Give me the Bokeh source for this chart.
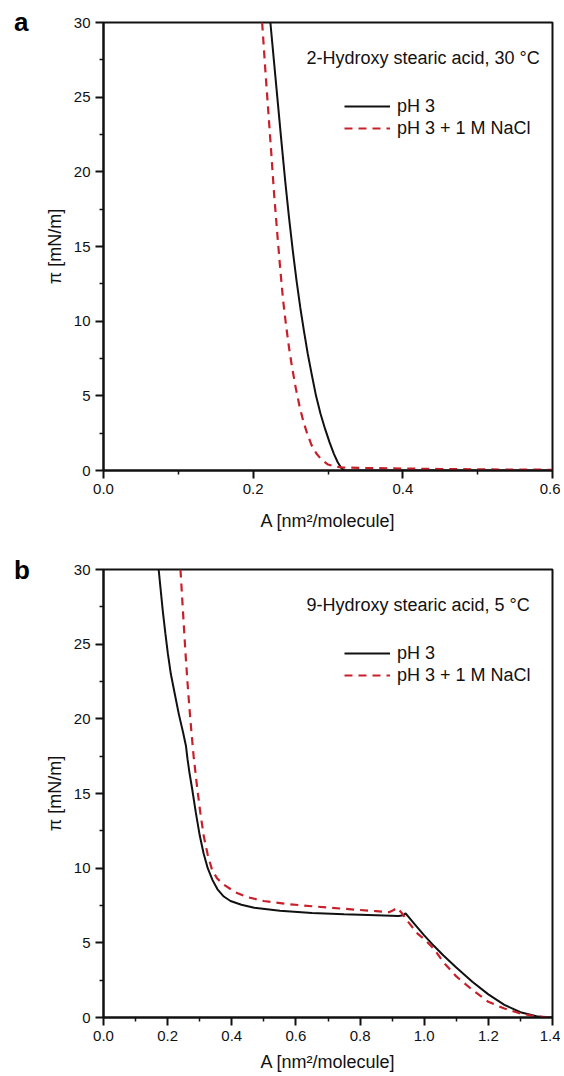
from bokeh.plotting import figure
from bokeh.models import (Label, Legend, LegendItem, FixedTicker,
                          PrintfTickFormatter, Range1d, Div)
from bokeh.layouts import column, row
from bokeh.embed import file_html
from bokeh.resources import INLINE

# ---------------- data ----------------
# Panel a: 2-Hydroxy stearic acid, 30 °C
a_area_ph3 = [0.223, 0.228, 0.233, 0.238, 0.243, 0.248, 0.253, 0.258, 0.263,
              0.268, 0.273, 0.278, 0.284, 0.290, 0.296, 0.302, 0.308, 0.313,
              0.318, 0.322, 0.40, 0.50, 0.60]
a_pi_ph3 = [30.0, 27.3, 24.6, 21.9, 19.3, 16.9, 14.7, 12.7, 10.9,
            9.3, 7.8, 6.5, 5.0, 3.8, 2.8, 1.9, 1.1, 0.55,
            0.15, 0.0, 0.0, 0.0, 0.0]
a_area_nacl = [0.212, 0.216, 0.220, 0.224, 0.228, 0.232, 0.236, 0.240, 0.244,
               0.248, 0.252, 0.257, 0.262, 0.267, 0.272, 0.278, 0.285, 0.292,
               0.300, 0.310, 0.320, 0.350, 0.400, 0.450, 0.500, 0.550, 0.600]
a_pi_nacl = [30.0, 27.0, 24.2, 21.4, 18.5, 16.0, 13.6, 11.4, 9.7,
             8.2, 6.9, 5.5, 4.3, 3.3, 2.5, 1.7, 1.1, 0.7,
             0.4, 0.25, 0.2, 0.17, 0.13, 0.1, 0.08, 0.06, 0.05]

# Panel b: 9-Hydroxy stearic acid, 5 °C
b_area_ph3 = [0.172, 0.178, 0.185, 0.193, 0.2005, 0.210, 0.222, 0.235, 0.248,
              0.257, 0.262, 0.268, 0.2765, 0.288, 0.300, 0.312, 0.325, 0.340,
              0.355, 0.375, 0.396, 0.430, 0.470, 0.550, 0.650, 0.750, 0.850,
              0.920, 0.935, 0.942, 0.970, 1.000, 1.030, 1.060, 1.100, 1.150,
              1.200, 1.250, 1.300, 1.350, 1.380, 1.400]
b_pi_ph3 = [30.0, 28.7, 27.2, 25.7, 24.4, 23.0, 21.7, 20.3, 19.1,
            18.2, 17.3, 16.4, 15.3, 13.7, 12.2, 11.0, 10.0, 9.2,
            8.6, 8.1, 7.8, 7.55, 7.35, 7.15, 7.0, 6.92, 6.85,
            6.8, 6.85, 6.98, 6.25, 5.5, 4.8, 4.15, 3.35, 2.4,
            1.55, 0.85, 0.35, 0.08, 0.0, 0.0]
b_area_nacl = [0.240, 0.245, 0.250, 0.2557, 0.263, 0.271, 0.281, 0.292, 0.302,
               0.313, 0.325, 0.339, 0.355, 0.375, 0.410, 0.448, 0.500, 0.573,
               0.650, 0.750, 0.850, 0.890, 0.905, 0.915, 0.930, 0.950, 0.980,
               1.000, 1.030, 1.060, 1.100, 1.150, 1.200, 1.250, 1.300, 1.350,
               1.380, 1.400]
b_pi_nacl = [30.0, 28.2, 26.4, 24.4, 22.1, 19.9, 17.5, 15.4, 13.7,
             12.1, 10.9, 9.85, 9.3, 8.9, 8.4, 8.06, 7.8, 7.6,
             7.45, 7.28, 7.12, 7.05, 7.2, 7.35, 7.0, 6.4, 5.6,
             5.25, 4.6, 3.7, 2.75, 1.85, 1.05, 0.6, 0.27, 0.07,
             0.02, 0.0]

a_xticks = [0.0, 0.2, 0.4, 0.6]
a_xminor = [0.1, 0.3, 0.5]
b_xticks = [0.0, 0.2, 0.4, 0.6, 0.8, 1.0, 1.2, 1.4]
b_xminor = [0.1, 0.3, 0.5, 0.7, 0.9, 1.1, 1.3]
yticks = [0, 5, 10, 15, 20, 25, 30]
yminor = [2.5, 7.5, 12.5, 17.5, 22.5, 27.5]

series_labels = ["pH 3", "pH 3 + 1 M NaCl"]
panel_titles = ["2-Hydroxy stearic acid, 30 \u00b0C", "9-Hydroxy stearic acid, 5 \u00b0C"]
panel_letters = ["a", "b"]

FONT = "Liberation Sans"
RED = "#c8202a"
INK = "#111111"
LEFT_STRIP = 40


def make_panel(xs1, ys1, xs2, ys2, xmax, xt, xm, title, height,
               btop, bbot, label_standoff):
    p = figure(width=560 - LEFT_STRIP, height=height, x_range=Range1d(0, xmax),
               y_range=Range1d(0, 30), output_backend="svg",
               toolbar_location=None, min_border_left=103 - LEFT_STRIP,
               min_border_right=8, min_border_top=btop,
               min_border_bottom=bbot)
    p.xgrid.visible = False
    p.ygrid.visible = False
    p.outline_line_color = INK
    p.outline_line_width = 2
    p.outline_line_alpha = 1

    p.xaxis.ticker = FixedTicker(ticks=xt, minor_ticks=xm)
    p.xaxis.formatter = PrintfTickFormatter(format="%.1f")
    p.yaxis.ticker = FixedTicker(ticks=yticks, minor_ticks=yminor)
    p.yaxis.formatter = PrintfTickFormatter(format="%d")

    for ax in (p.xaxis[0], p.yaxis[0]):
        ax.axis_line_width = 2
        ax.axis_line_color = INK
        ax.major_tick_line_width = 2
        ax.major_tick_line_color = INK
        ax.minor_tick_line_width = 1.5
        ax.minor_tick_line_color = INK
        ax.major_tick_in = 0
        ax.major_tick_out = 8
        ax.minor_tick_in = 0
        ax.minor_tick_out = 4
        ax.major_label_text_font = FONT
        ax.major_label_text_font_size = "15px"
        ax.major_label_text_color = INK
        ax.major_label_standoff = 5
        ax.axis_label_text_font = FONT
        ax.axis_label_text_font_size = "18px"
        ax.axis_label_text_font_style = "normal"
        ax.axis_label_text_color = INK
    p.xaxis.axis_label = "A [nm\u00b2/molecule]"
    p.xaxis.axis_label_standoff = label_standoff
    p.yaxis.axis_label = "\u03c0 [mN/m]"
    p.yaxis.axis_label_standoff = 6

    r1 = p.line(xs1, ys1, line_color=INK, line_width=2)
    r2 = p.line(xs2, ys2, line_color=RED, line_width=2.2, line_dash="8 6")

    legend = Legend(items=[LegendItem(label=series_labels[0], renderers=[r1]),
                           LegendItem(label=series_labels[1], renderers=[r2])],
                    location=(241, 331), border_line_color=None,
                    background_fill_alpha=0, padding=0, margin=0, spacing=0,
                    glyph_width=46, glyph_height=22, label_height=22,
                    label_standoff=7, label_text_font=FONT,
                    label_text_font_size="18px", label_text_color=INK)
    p.add_layout(legend)

    px_per_x = 449.0 / xmax
    px_per_y = 448.0 / 30.0
    p.add_layout(Label(x=203.0 / px_per_x, y=30 - 35.0 / px_per_y, text=title,
                       text_baseline="middle", text_align="left",
                       text_font=FONT, text_font_size="18px", text_color=INK))
    return p


def letter_div(letter, pad_top, height):
    html = ('<div style="font-family: \'Liberation Sans\', Arial, sans-serif; '
            'font-size: 26px; font-weight: bold; line-height: 26px; '
            'color: #000; padding-top: %dpx; padding-left: 14px;">%s</div>'
            % (pad_top, letter))
    return Div(text=html, width=LEFT_STRIP, height=height, margin=0)


pa = make_panel(a_area_ph3, a_pi_ph3, a_area_nacl, a_pi_nacl, 0.6, a_xticks,
                a_xminor, panel_titles[0], 535, 22, 65, 14)
pb = make_panel(b_area_ph3, b_pi_ph3, b_area_nacl, b_pi_nacl, 1.4, b_xticks,
                b_xminor, panel_titles[1], 540, 34, 58, 8)

row_a = row(letter_div(panel_letters[0], 9, 535), pa, spacing=0)
row_b = row(letter_div(panel_letters[1], 22, 540), pb, spacing=0)
layout = column(row_a, row_b, spacing=0)
open("out.html", "w").write(file_html(layout, INLINE))
